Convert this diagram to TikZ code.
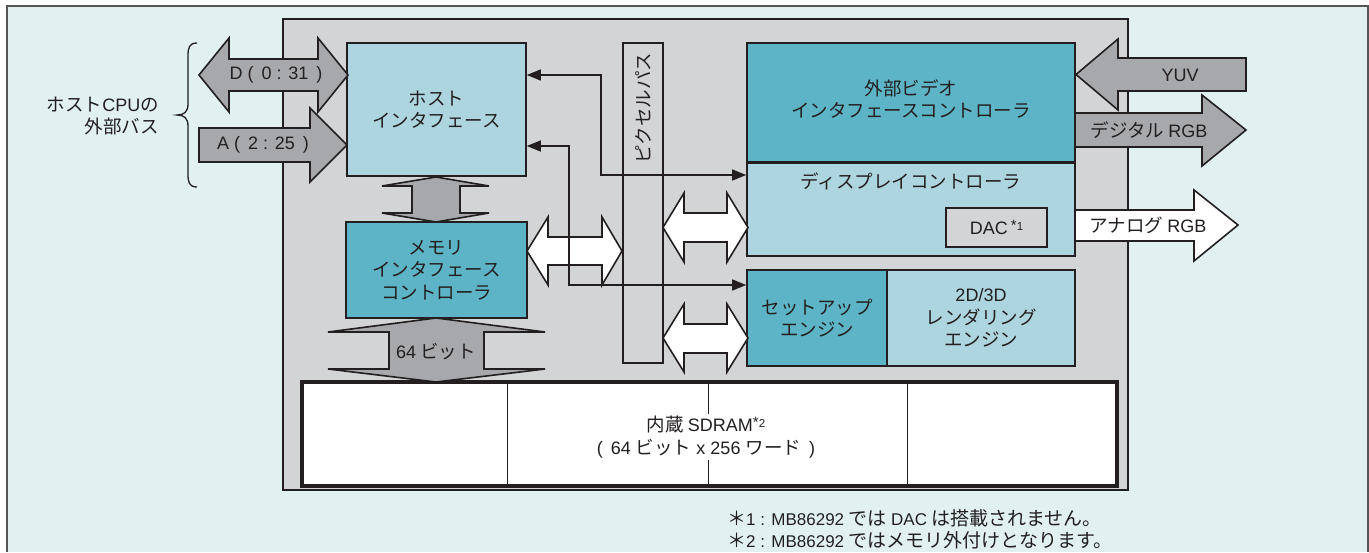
\documentclass[tikz,border=0pt]{standalone}
\usepackage{fontspec}
\setmainfont{Noto Sans CJK JP}
\newfontfamily\lat{Liberation Sans}
\usetikzlibrary{arrows.meta}
\definecolor{bg}{HTML}{E1F1F2}
\definecolor{chipgray}{HTML}{D3D4D6}
\definecolor{lightblue}{HTML}{ADD5E0}
\definecolor{teal}{HTML}{5DB4C6}
\definecolor{arrowgray}{HTML}{A7A8AB}
\definecolor{ink}{HTML}{231F20}
\definecolor{framegray}{HTML}{555555}
\newcommand\lbl{\fontsize{18.5}{22.5}\selectfont}
\newcommand\note{\fontsize{19}{22}\selectfont}
\newcommand\La[1]{{\lat\fontsize{18}{22.5}\selectfont #1}}
\newcommand\Lf[1]{{\lat\fontsize{17}{22}\selectfont #1}}
\newcommand\Ls[1]{\raisebox{4pt}{{\lat\fontsize{15}{15}\selectfont *}{\lat\fontsize{11.5}{11.5}\selectfont #1}}}
\begin{document}
\begin{tikzpicture}[x=1pt,y=-1pt,line join=miter,
  box/.style={draw=ink, line width=1.6pt, inner sep=0pt, align=center, font=\lbl, text=ink},
  txt/.style={inner sep=0pt, align=center, font=\lbl, text=ink},
  bigarrow/.style={draw=ink, line width=1.6pt, fill=arrowgray},
  whitearrow/.style={draw=ink, line width=1.6pt, fill=white},
  conn/.style={draw=ink, line width=1.5pt, {Triangle[length=14pt,width=11pt]}-{Triangle[length=14pt,width=11pt]}},
  footnote/.style={inner sep=0pt, anchor=west, font=\note, text=ink}]
\useasboundingbox (0,0) rectangle (1369,552);
\fill[bg] (7,6) rectangle (1368,552);
\draw[framegray, line width=1.3pt] (7,552) -- (7,6) -- (1368,6) -- (1368,552);

% chip
\node[box, fill=chipgray, minimum width=845pt, minimum height=471pt] (chip) at (705.5,254.5) {};

% left brace and label
\draw[ink, line width=1.3pt] (197,43) .. controls (189,43) and (188,48) .. (188,56) -- (188,104)
  .. controls (188,112) and (184,115) .. (177,115) .. controls (184,115) and (188,118) .. (188,126)
  -- (188,174) .. controls (188,182) and (189,187) .. (197,187);
\node[txt, align=right, anchor=east] (cpubus) at (159,116) {ホスト\La{CPU}の\\外部バス};

% boxes
\node[box, fill=lightblue, minimum width=179pt, minimum height=133pt] (host) at (436.5,109.5) {ホスト\\インタフェース};
\node[box, fill=teal, minimum width=181pt, minimum height=96pt] (mem) at (436.5,270) {メモリ\\インタフェース\\コントローラ};
\node[box, fill=chipgray, minimum width=40pt, minimum height=320pt] (pbus) at (643,203) {};
\node[txt, rotate=90] (pbustext) at (643,108) {ピクセルパス};
\node[box, fill=teal, minimum width=328pt, minimum height=119pt] (extvid) at (911,102.5) {};
\node[txt] (extvidtext) at (911,99) {外部ビデオ\\インタフェースコントローラ};
\node[box, fill=lightblue, minimum width=328pt, minimum height=94pt] (disp) at (911,209) {};
\node[txt] (disptext) at (911,181) {ディスプレイコントローラ};
\node[box, fill=chipgray, minimum width=101pt, minimum height=39pt] (dac) at (996.5,227.5) {\La{DAC}\,\Ls{1}};
\node[box, fill=teal, minimum width=140pt, minimum height=96pt] (setup) at (817,318) {セットアップ\\エンジン};
\node[box, fill=lightblue, minimum width=188pt, minimum height=96pt] (render) at (981,318) {\La{2D/3D}\\レンダリング\\エンジン};

% SDRAM
\node[draw=ink, line width=4.5pt, fill=white, minimum width=815pt, minimum height=104pt, inner sep=0pt] (sdram) at (709.5,434) {};
\draw[ink, line width=0.8pt] (507,384) -- (507,484) (708,384) -- (708,484) (907,384) -- (907,484);
\node[txt, fill=white, inner sep=2pt] (sdramtext) at (706,437) {内蔵 \La{SDRAM}\Ls{2}\\\La{(\, 64 }ビット\La{ x 256 }ワード\La{ \,)}};

% big gray arrows on left
\draw[bigarrow] (199,75) -- (229,38) -- (229,59) -- (318,59) -- (318,38) -- (348,75) -- (318,112) -- (318,91) -- (229,91) -- (229,112) -- cycle;
\node[txt] (dlbl) at (276,75) {\La{D (\, 0 : 31 \,)}};
\draw[bigarrow] (199,128) -- (310,128) -- (310,108) -- (347,145) -- (310,182) -- (310,162) -- (199,162) -- cycle;
\node[txt] (albl) at (263,145) {\La{A (\, 2 : 25 \,)}};

% host <-> mem
\draw[bigarrow] (436,177) -- (489,186) -- (460,186) -- (460,213) -- (489,213) -- (436,222) -- (382,213) -- (412,213) -- (412,186) -- (382,186) -- cycle;
% mem <-> sdram 64bit
\draw[bigarrow] (436,318) -- (545,332) -- (484,332) -- (484,369) -- (545,369) -- (436,382) -- (328,369) -- (389,369) -- (389,332) -- (328,332) -- cycle;
\node[txt] (bitlbl) at (436,352) {\La{64} ビット};

% white double arrows
\draw[whitearrow] (527,251) -- (548,217) -- (548,237) -- (602,237) -- (602,217) -- (622,251) -- (602,285) -- (602,265) -- (548,265) -- (548,285) -- cycle;
\draw[whitearrow] (663,227.5) -- (684,193) -- (684,213) -- (727,213) -- (727,193) -- (748,227.5) -- (727,262) -- (727,242) -- (684,242) -- (684,262) -- cycle;
\draw[whitearrow] (663,338) -- (684,304) -- (684,324) -- (727,324) -- (727,304) -- (748,338) -- (727,372) -- (727,353) -- (684,353) -- (684,372) -- cycle;

% right side arrows
\draw[bigarrow] (1076,74.5) -- (1118,39) -- (1118,58) -- (1246,58) -- (1246,91) -- (1118,91) -- (1118,110) -- cycle;
\node[txt] (yuv) at (1180,75) {\La{YUV}};
\draw[bigarrow] (1075,113) -- (1202,113) -- (1202,95) -- (1246,130) -- (1202,166) -- (1202,147) -- (1075,147) -- cycle;
\node[txt] (drgb) at (1149,130) {デジタル \La{RGB}};
\draw[whitearrow] (1075,210) -- (1194,210) -- (1194,190) -- (1238,225) -- (1194,261) -- (1194,241) -- (1075,241) -- cycle;
\node[txt] (argb) at (1148,225) {アナログ \La{RGB}};
\draw[ink, line width=1.6pt] (extvid.south west) -- (extvid.south east);

% connectors
\coordinate (c1) at (601,75);
\coordinate (c2) at (601,175);
\coordinate (c3) at (569,146);
\coordinate (c4) at (569,285);
\draw[conn] (host.east |- c1) -- (c1) -- (c2) -- (disp.west |- c2);
\draw[conn] (host.east |- c3) -- (c3) -- (c4) -- (setup.west |- c4);

% footnotes
\node[footnote] (fn1) at (727,518) {＊\Lf{1 : MB86292 }では \Lf{DAC} は搭載されません。};
\node[footnote] (fn2) at (727,540) {＊\Lf{2 : MB86292 }ではメモリ外付けとなります。};
\end{tikzpicture}
\end{document}
